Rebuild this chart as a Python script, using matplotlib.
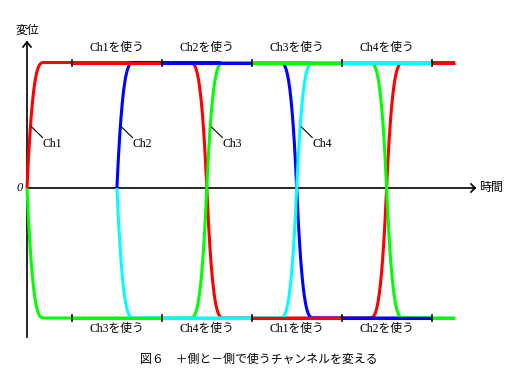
import numpy as np
import matplotlib
matplotlib.use("Agg")
import matplotlib.pyplot as plt

# ---- data ----
channels = ["Ch1", "Ch2", "Ch3", "Ch4"]
colors = ["#FF0000", "#0000FF", "#00FF00", "#00FFFF"]
# zero crossings (time) and direction (+1 rising, -1 falling)
crossings = {
    "Ch1": [(0, +1), (2, -1), (4, +1)],
    "Ch2": [(1, +1), (3, -1)],
    "Ch3": [(0, -1), (2, +1), (4, -1)],
    "Ch4": [(1, -1), (3, +1)],
}
t_start = {"Ch1": 0, "Ch2": 1, "Ch3": 0, "Ch4": 1}
t_end = {"Ch1": 4.76, "Ch2": 4.5, "Ch3": 4.76, "Ch4": 4.5}
top_level = 1.0
bottom_level = -1.036
rise_time = 0.19

seg_bounds = [0.5, 1.5, 2.5, 3.5, 4.5, 4.76]
top_use = ["Ch1", "Ch2", "Ch3", "Ch4", "Ch1"]
bottom_use = ["Ch3", "Ch4", "Ch1", "Ch2", "Ch3"]
tick_times = [0.5, 1.5, 2.5, 3.5, 4.5]
top_labels = ["Ch1を使う", "Ch2を使う", "Ch3を使う", "Ch4を使う"]
bottom_labels = ["Ch3を使う", "Ch4を使う", "Ch1を使う", "Ch2を使う"]
label_centers = [1, 2, 3, 4]
caption = "図６　＋側と－側で使うチャンネルを変える"

# ---- pixel mapping helpers for layout ----
X0, XS = 27.0, 89.9
Y0, YS = 188.0, 125.5
def px2t(px):
    return (px - X0) / XS
def py2v(py):
    return (Y0 - py) / YS

fig = plt.figure(figsize=(5.12, 3.84), dpi=100)
ax = fig.add_axes([0, 0, 1, 1])
ax.set_xlim(px2t(0), px2t(512))
ax.set_ylim(py2v(384), py2v(0))
ax.axis("off")

jp = ["Liberation Serif", "Noto Sans CJK JP"]

def shape(tau):
    a = np.clip(np.abs(tau) / rise_time, 0, 1)
    return np.sign(tau) * (1 - (1 - a) ** 3)

def curve(name):
    t = np.linspace(t_start[name], t_end[name], 2000)
    cs = np.array([c for c, d in crossings[name]])
    ds = np.array([d for c, d in crossings[name]])
    idx = np.argmin(np.abs(t[:, None] - cs[None, :]), axis=1)
    g = ds[idx] * shape(t - cs[idx])
    v = np.where(g > 0, g * top_level, g * (-bottom_level))
    return t, v

lw = 2.2
for name, col in zip(channels, colors):
    t, v = curve(name)
    ax.plot(t, v, color=col, lw=lw, solid_capstyle="butt", zorder=3)

cmap = dict(zip(channels, colors))
for i in range(len(top_use)):
    a, b = seg_bounds[i], seg_bounds[i + 1]
    ax.plot([a, b], [top_level, top_level], color=cmap[top_use[i]], lw=lw,
             solid_capstyle="butt", zorder=4)
    ax.plot([a, b], [bottom_level, bottom_level], color=cmap[bottom_use[i]], lw=lw,
             solid_capstyle="butt", zorder=4)

# tick marks on the levels
dv = 3.0 / YS
for tt in tick_times:
    for lev in (top_level, bottom_level):
        ax.plot([tt, tt], [lev - dv, lev + dv], color="black", lw=1.2, zorder=5)

# axes with arrows
ax.plot([0, px2t(475)], [0, 0], color="black", lw=1.2, zorder=2)
ax.plot([0, 0], [py2v(337), py2v(42)], color="black", lw=1.2, zorder=2)
ax.plot([px2t(471), px2t(475), px2t(471)], [py2v(184), py2v(188), py2v(192)],
        color="black", lw=1.2, zorder=2)
ax.plot([px2t(23), px2t(27), px2t(31)], [py2v(47), py2v(42), py2v(47)],
        color="black", lw=1.2, zorder=2)

ax.text(px2t(27), py2v(31), "変位", family=jp, fontsize=8.6, ha="center", va="center")
ax.text(px2t(479), py2v(188), "時間", family=jp, fontsize=8.6, ha="left", va="center")
ax.text(px2t(19.5), py2v(188), "0", family=jp, fontsize=9, style="italic",
        ha="center", va="center")

for c, lab in zip(label_centers, top_labels):
    ax.text(c, py2v(48), lab, family=jp, fontsize=8.5, ha="center", va="center")
for c, lab in zip(label_centers, bottom_labels):
    ax.text(c, py2v(329), lab, family=jp, fontsize=8.5, ha="center", va="center")

# channel labels with leader lines
for k, name in enumerate(channels):
    c = crossings[name][0][0] if name in ("Ch1", "Ch2") else crossings[name][1][0]
    ax.plot([c + 4.7 / XS, c + 15.5 / XS], [py2v(127), py2v(137.5)],
            color="black", lw=0.8, zorder=5)
    ax.text(c + 15.5 / XS, py2v(144), name, family=jp, fontsize=8.5,
            ha="left", va="center")

ax.text(px2t(259), py2v(360), caption, family=jp, fontsize=8.6, ha="center", va="center")

fig.savefig("out.png", dpi=100)
